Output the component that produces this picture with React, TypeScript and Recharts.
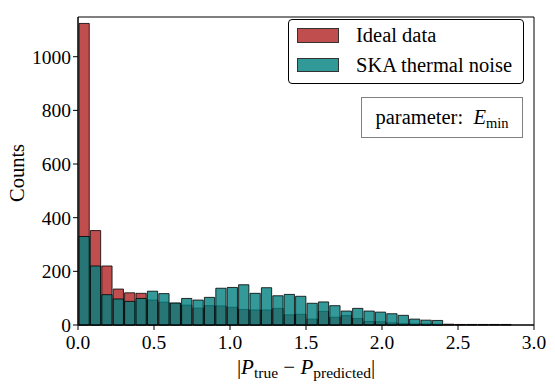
import React from 'react';
import { BarChart, Bar, XAxis, YAxis, Legend, ReferenceArea } from 'recharts';

// histogram bins: 40 bins of width 0.075 over [0, 3]
const BIN_WIDTH = 0.075;
const idealCounts = [
  1124, 352, 220, 134, 120, 118, 93, 85, 81, 74,
  63, 72, 71, 66, 58, 56, 56, 62, 38, 40,
  22, 51, 29, 35, 24, 13, 12, 8, 5, 4,
  4, 3, 3, 2, 2, 2, 2, 2, 0, 0,
];
const skaCounts = [
  330, 220, 113, 97, 88, 99, 126, 117, 82, 99,
  93, 103, 137, 140, 150, 118, 139, 109, 114, 107,
  81, 86, 72, 52, 62, 52, 48, 42, 36, 22,
  18, 17, 0, 0, 0, 0, 0, 0, 0, 0,
];
const xTicks = [0, 0.5, 1, 1.5, 2, 2.5, 3];
const yTicks = [0, 200, 400, 600, 800, 1000];
const Y_MAX = 1148;

const FONT = '"Liberation Serif", "DejaVu Serif", serif';
const RED = '#b22222';
const TEAL = '#008080';

const series = [
  { key: 'ideal', name: 'Ideal data', color: RED },
  { key: 'ska', name: 'SKA thermal noise', color: TEAL },
];

const data = idealCounts.map((v, i) => ({
  x: (i + 0.5) * BIN_WIDTH,
  ideal: v > 0 ? v : null,
  ska: skaCounts[i] > 0 ? skaCounts[i] : null,
}));

const XLabel = () => (
  <text x={306} y={374} textAnchor="middle" fontFamily={FONT} fontSize={21} fill="#000">
    <tspan>|</tspan>
    <tspan fontStyle="italic">P</tspan>
    <tspan fontSize={15.5} dy={4}>true</tspan>
    <tspan dy={-4}>{' \u2212 '}</tspan>
    <tspan fontStyle="italic">P</tspan>
    <tspan fontSize={15.5} dy={4}>predicted</tspan>
    <tspan dy={-4}>|</tspan>
  </text>
);

const YLabel = () => (
  <text x={24} y={173} transform="rotate(-90 24 173)" textAnchor="middle" fontFamily={FONT} fontSize={20.5} fill="#000">
    Counts
  </text>
);

const renderLegend = () => (
  <div
    style={{
      width: 236,
      height: 65,
      border: '1px solid #000',
      borderRadius: 4,
      background: '#fff',
      boxSizing: 'border-box',
      paddingTop: 0.5,
      fontFamily: FONT,
      fontSize: 20.5,
      color: '#000',
    }}
  >
    {series.map((s) => (
      <div key={s.key} style={{ display: 'flex', alignItems: 'center', height: 29.7 }}>
        <span
          style={{
            display: 'inline-block',
            marginLeft: 7.5,
            width: 42.5,
            height: 14.5,
            boxSizing: 'border-box',
            background: s.color,
            opacity: 0.8,
            border: '1px solid #000',
          }}
        />
        <span style={{ marginLeft: 17, lineHeight: 1, whiteSpace: 'nowrap' }}>{s.name}</span>
      </div>
    ))}
  </div>
);

export default function App() {
  return (
    <div style={{ position: 'absolute', left: 0, top: 0, width: 555, height: 387, background: '#fff' }}>
      <BarChart width={555} height={387} data={data} margin={{ top: 17, right: 21, bottom: 0, left: 0 }}>
        <XAxis
          xAxisId="a"
          type="number"
          dataKey="x"
          domain={[0, 3]}
          ticks={xTicks}
          interval={0}
          height={62}
          tickSize={5}
          tickMargin={5}
          tickFormatter={(v: number) => v.toFixed(1)}
          axisLine={{ stroke: '#000' }}
          tickLine={{ stroke: '#000' }}
          tick={{ fill: '#000', fontSize: 19.5, fontFamily: FONT }}
          label={<XLabel />}
        />
        <XAxis xAxisId="b" type="number" dataKey="x" domain={[0, 3]} hide />
        <YAxis
          type="number"
          domain={[0, Y_MAX]}
          ticks={yTicks}
          interval={0}
          width={78}
          tickSize={5}
          tickMargin={2}
          axisLine={{ stroke: '#000' }}
          tickLine={{ stroke: '#000' }}
          tick={{ fill: '#000', fontSize: 19.5, fontFamily: FONT }}
          label={<YLabel />}
        />
        <Bar
          xAxisId="a"
          dataKey="ideal"
          name="Ideal data"
          barSize={11.4}
          fill={RED}
          fillOpacity={0.8}
          stroke="#000"
          strokeOpacity={0.8}
          strokeWidth={1}
          isAnimationActive={false}
        />
        <Bar
          xAxisId="b"
          dataKey="ska"
          name="SKA thermal noise"
          barSize={11.4}
          fill={TEAL}
          fillOpacity={0.8}
          stroke="#000"
          strokeOpacity={0.8}
          strokeWidth={1}
          isAnimationActive={false}
        />
        <ReferenceArea
          xAxisId="a"
          x1={0}
          x2={3}
          y1={0}
          y2={Y_MAX}
          fill="none"
          fillOpacity={0}
          stroke="#000"
          strokeWidth={1}
          ifOverflow="visible"
        />
        <Legend
          layout="vertical"
          align="center"
          verticalAlign="middle"
          content={renderLegend}
          wrapperStyle={{ position: 'absolute', left: 288, top: 19, width: 236 }}
        />
      </BarChart>
      <div
        style={{
          position: 'absolute',
          left: 361,
          top: 97,
          width: 162,
          height: 41,
          boxSizing: 'border-box',
          border: '1px solid #808080',
          background: '#fff',
          display: 'flex',
          alignItems: 'center',
          justifyContent: 'center',
          fontFamily: FONT,
          fontSize: 20.5,
          color: '#000',
          whiteSpace: 'nowrap',
        }}
      >
        <span>
          parameter:&nbsp;&nbsp;<i>E</i>
          <span style={{ fontSize: 14.5, position: 'relative', top: 4 }}>min</span>
        </span>
      </div>
    </div>
  );
}
